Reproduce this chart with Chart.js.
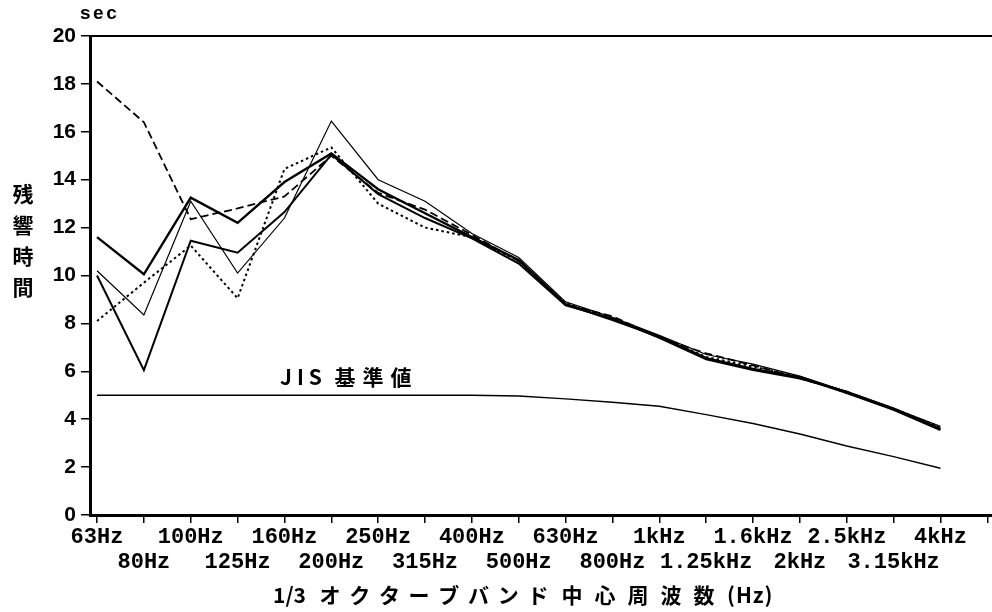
<!DOCTYPE html>
<html>
<head>
<meta charset="utf-8">
<script src="https://cdn.jsdelivr.net/npm/chart.js@4/dist/chart.umd.min.js"></script>
<style>
  html, body { margin: 0; padding: 0; background: #fff; }
  #wrap { position: relative; width: 992px; height: 612px; }
</style>
</head>
<body>
<div id="wrap"><canvas id="rt"></canvas></div>
<script>
// 1/3 octave band centre frequencies
const bands = ['63Hz','80Hz','100Hz','125Hz','160Hz','200Hz','250Hz','315Hz','400Hz','500Hz',
               '630Hz','800Hz','1kHz','1.25kHz','1.6kHz','2kHz','2.5kHz','3.15kHz','4kHz'];
const yTicks = [0, 2, 4, 6, 8, 10, 12, 14, 16, 18, 20];

// reverberation time (sec) per measurement
const rtSolidHeavy = [11.6, 10.05, 13.25, 12.2, 13.9, 15.1, 13.6, 12.6, 11.6, 10.65, 8.8, 8.15, 7.45, 6.55, 6.1, 5.75, 5.1, 4.4, 3.55];
const rtSolid      = [10.0, 6.05, 11.45, 10.95, 12.65, 15.05, 13.4, 12.4, 11.55, 10.5, 8.75, 8.2, 7.4, 6.5, 6.05, 5.7, 5.15, 4.45, 3.6];
const rtSolidThin  = [10.2, 8.35, 13.1, 10.1, 12.4, 16.45, 14.0, 13.1, 11.75, 10.75, 8.9, 8.25, 7.5, 6.7, 6.3, 5.8, 5.15, 4.45, 3.7];
const rtDotted     = [8.1, 9.7, 11.25, 9.05, 14.45, 15.35, 13.0, 12.0, 11.6, 10.6, 8.85, 8.2, 7.45, 6.6, 6.2, 5.75, 5.1, 4.45, 3.65];
const rtDashed     = [18.1, 16.4, 12.35, 12.8, 13.3, 15.0, 13.45, 12.75, 11.7, 10.6, 8.8, 8.3, 7.4, 6.75, 6.25, 5.7, 5.15, 4.4, 3.6];
// JIS reference curve
const jisStandard  = [5.0, 5.0, 5.0, 5.0, 5.0, 5.0, 5.0, 5.0, 5.0, 4.97, 4.85, 4.71, 4.54, 4.19, 3.82, 3.38, 2.88, 2.44, 1.95];

const toPoints = arr => arr.map((v, i) => ({ x: i, y: v }));

function line(values, width, dash) {
  return {
    data: toPoints(values),
    borderColor: '#000',
    borderWidth: width,
    borderDash: dash || [],
    pointRadius: 0,
    tension: 0,
    fill: false
  };
}

// draw a string one glyph at a time with extra spacing
function spaced(ctx, text, x, y, gap) {
  let cx = x;
  for (const ch of text) {
    ctx.fillText(ch, cx, y);
    cx += ctx.measureText(ch).width + gap;
  }
}
function centred(ctx, chars, cx0, y, pitch) {
  ctx.textAlign = 'center';
  [...chars].forEach((ch, i) => ctx.fillText(ch, cx0 + i * pitch, y));
  ctx.textAlign = 'left';
}

const textPlugin = {
  id: 'textOverlay',
  afterDraw(chart) {
    const { ctx, chartArea: a } = chart;
    ctx.save();
    // top frame line
    ctx.strokeStyle = '#000';
    ctx.lineWidth = 2;
    ctx.beginPath();
    ctx.moveTo(a.left, a.top);
    ctx.lineTo(a.right, a.top);
    ctx.stroke();

    ctx.fillStyle = '#000';
    ctx.textBaseline = 'middle';
    ctx.textAlign = 'left';

    // unit
    ctx.font = 'bold 19px "Liberation Sans", sans-serif';
    spaced(ctx, 'sec', a.left - 10, a.top - 22, 2.5);

    // vertical axis title, stacked
    ctx.font = 'bold 21px "Noto Sans CJK JP", sans-serif';
    ctx.textAlign = 'center';
    ['残', '響', '時', '間'].forEach((ch, i) => ctx.fillText(ch, 23, a.top + 158 + i * 31));

    // horizontal axis title
    ctx.textAlign = 'left';
    ctx.font = 'bold 21px "Noto Sans CJK JP", sans-serif';
    const ty = a.bottom + 80;
    spaced(ctx, '1/3', 273, ty, 0);
    centred(ctx, 'オクターブバンド', 330, ty, 29.7);
    centred(ctx, '中心周波数', 572, ty, 33);
    spaced(ctx, '(Hz)', 727, ty, 1);

    // reference curve label
    ctx.font = 'bold 21px "Noto Sans CJK JP", sans-serif';
    spaced(ctx, 'JIS', 280, a.top + 341, 5);
    centred(ctx, '基準値', 345, a.top + 341, 28);
    ctx.restore();
  }
};

Chart.defaults.color = '#000';

new Chart(document.getElementById('rt'), {
  type: 'line',
  data: {
    datasets: [
      line(rtSolidHeavy, 2.4),
      line(rtSolid, 2),
      line(rtSolidThin, 1.2),
      line(rtDotted, 2, [2.5, 3]),
      line(rtDashed, 1.8, [8, 4]),
      line(jisStandard, 1.4)
    ]
  },
  options: {
    responsive: true,
    maintainAspectRatio: false,
    animation: false,
    layout: { padding: { top: 36, right: 0, bottom: 0, left: 0 } },
    plugins: { legend: { display: false }, tooltip: { enabled: false } },
    scales: {
      x: {
        type: 'linear',
        min: -0.15,
        max: 19.1,
        afterBuildTicks(scale) {
          scale.ticks = bands.map((b, i) => ({ value: i })).concat([{ value: bands.length }]);
        },
        afterFit(scale) { scale.height = 97; },
        grid: { drawOnChartArea: false, drawTicks: true, tickLength: 8, color: '#000', lineWidth: 1.5 },
        border: { display: true, color: '#000', width: 3 },
        ticks: {
          autoSkip: false,
          maxRotation: 0,
          padding: 2,
          font: { family: '"Liberation Mono", monospace', weight: 'bold', size: 22, lineHeight: 1.14 },
          callback(value) {
            const label = bands[value];
            if (label === undefined) return '';
            return value % 2 === 0 ? label : ['', label];
          }
        }
      },
      y: {
        min: 0,
        max: 20,
        afterBuildTicks(scale) {
          scale.ticks = yTicks.map(v => ({ value: v }));
        },
        afterFit(scale) { scale.width = 90; },
        grid: { drawOnChartArea: false, drawTicks: true, tickLength: 9, color: '#000', lineWidth: 1.5 },
        border: { display: true, color: '#000', width: 3 },
        ticks: {
          padding: 5,
          font: { family: '"Liberation Sans", Arial, sans-serif', weight: 'bold', size: 21 }
        }
      }
    }
  },
  plugins: [textPlugin]
});
</script>
</body>
</html>
